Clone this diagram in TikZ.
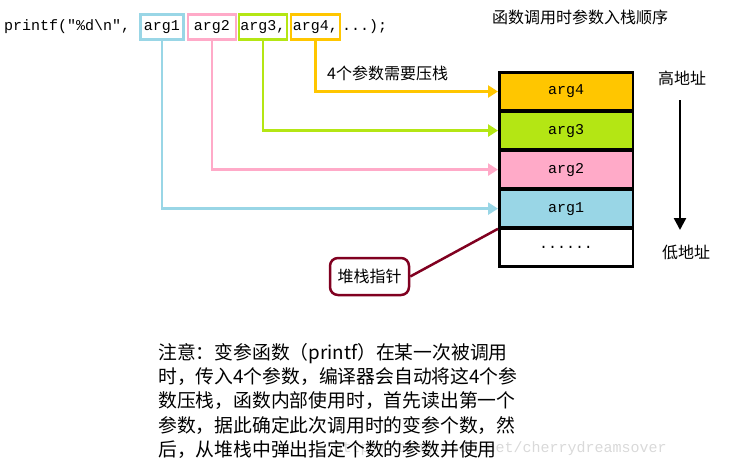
\documentclass[tikz,border=0pt]{standalone}
\usepackage{fontspec}
\setmainfont{Liberation Serif}
\setmonofont{Liberation Mono}
\newfontfamily\cjk{Noto Sans CJK SC}
\usetikzlibrary{calc,arrows.meta}
\definecolor{cblue}{RGB}{153,214,230}
\definecolor{cpink}{RGB}{255,170,200}
\definecolor{clime}{RGB}{180,230,20}
\definecolor{cgold}{RGB}{255,198,0}
\definecolor{cred}{RGB}{128,0,32}
\tikzset{
  argbox/.style={draw=#1, line width=2.5pt, inner sep=1pt, minimum height=25pt, font=\ttfamily\fontsize{15}{15}\selectfont},
  cell/.style={draw=black, line width=2.5pt, fill=#1, minimum width=133.5pt, minimum height=37.8pt, font=\ttfamily\fontsize{15}{15}\selectfont},
  feed/.style={draw=#1, line width=2.5pt, -{Triangle[length=10pt,width=12pt]}},
  cn/.style={font=\cjk\fontsize{16}{24}\selectfont, inner sep=0pt}
}
\begin{document}
\begin{tikzpicture}[x=1pt,y=-1pt]
	\useasboundingbox (0,0) rectangle (729,469);
%	call line
	\node[anchor=west, inner sep=0pt, font=\ttfamily\fontsize{15}{15}\selectfont] at (4,27) {printf("\%d\textbackslash n",};
	\node[argbox=cblue, minimum width=43pt] (a1) at (162,27) {arg1};
	\node[argbox=cpink, minimum width=48pt] (a2) at (212,27) {arg2};
	\node[argbox=clime, minimum width=48pt] (a3) at (263,27) {arg3,};
	\node[argbox=cgold, minimum width=49pt] (a4) at (315.5,27) {arg4,};
	\node[anchor=west, inner sep=0pt, font=\ttfamily\fontsize{15}{15}\selectfont] at (342,27) {...);};
	\node[cn] at (580,17) {函数调用时参数入栈顺序};
%	stack
	\node[cell=cgold] (s4) at (566,91.5) {arg4};
	\node[cell=clime, anchor=north] (s3) at ($(s4.south)+(0,-1.25)$) {arg3};
	\node[cell=cpink, anchor=north] (s2) at ($(s3.south)+(0,-1.25)$) {arg2};
	\node[cell=cblue, anchor=north] (s1) at ($(s2.south)+(0,-1.25)$) {arg1};
	\node[cell=white, anchor=north] (s0) at ($(s1.south)+(0,-1.25)$) {......};
%	feeds
	\draw[feed=cgold] (a4.south) |- (s4.west);
	\draw[feed=clime] (a3.south) |- (s3.west);
	\draw[feed=cpink] (a2.south) |- (s2.west);
	\draw[feed=cblue] (a1.south) |- (s1.west);
	\node[cn, anchor=west] at (327,73) {4个参数需要压栈};
%	addresses
	\node[cn] (hi) at (682,78) {高地址};
	\node[cn] (lo) at (686,252) {低地址};
	\coordinate (top) at (680,100);
	\coordinate (bot) at (680,230);
	\draw[line width=2.5pt, -{Triangle[length=12pt,width=12pt]}] (top) -- (bot);
%	stack pointer
	\node[cn, draw=cred, line width=2.5pt, rounded corners=8pt, minimum width=79pt, minimum height=37pt] (sp) at (369.5,276.5) {堆栈指针};
	\draw[cred, line width=2.5pt] (sp.east) -- (s1.south west);
%	note
	\node[anchor=west, text=black!15, font=\ttfamily\fontsize{15}{15}\selectfont] at (330,449) {http://blog.csdn.net/cherrydreamsover};
	\node[cn, anchor=north west, align=left, font=\cjk\fontsize{18.8}{24.3}\selectfont] at (158,343) {注意：变参函数（printf）在某一次被调用\\时，传入4个参数，编译器会自动将这4个参\\数压栈，函数内部使用时，首先读出第一个\\参数，据此确定此次调用时的变参个数，然\\后，从堆栈中弹出指定个数的参数并使用};
\end{tikzpicture}
\end{document}
